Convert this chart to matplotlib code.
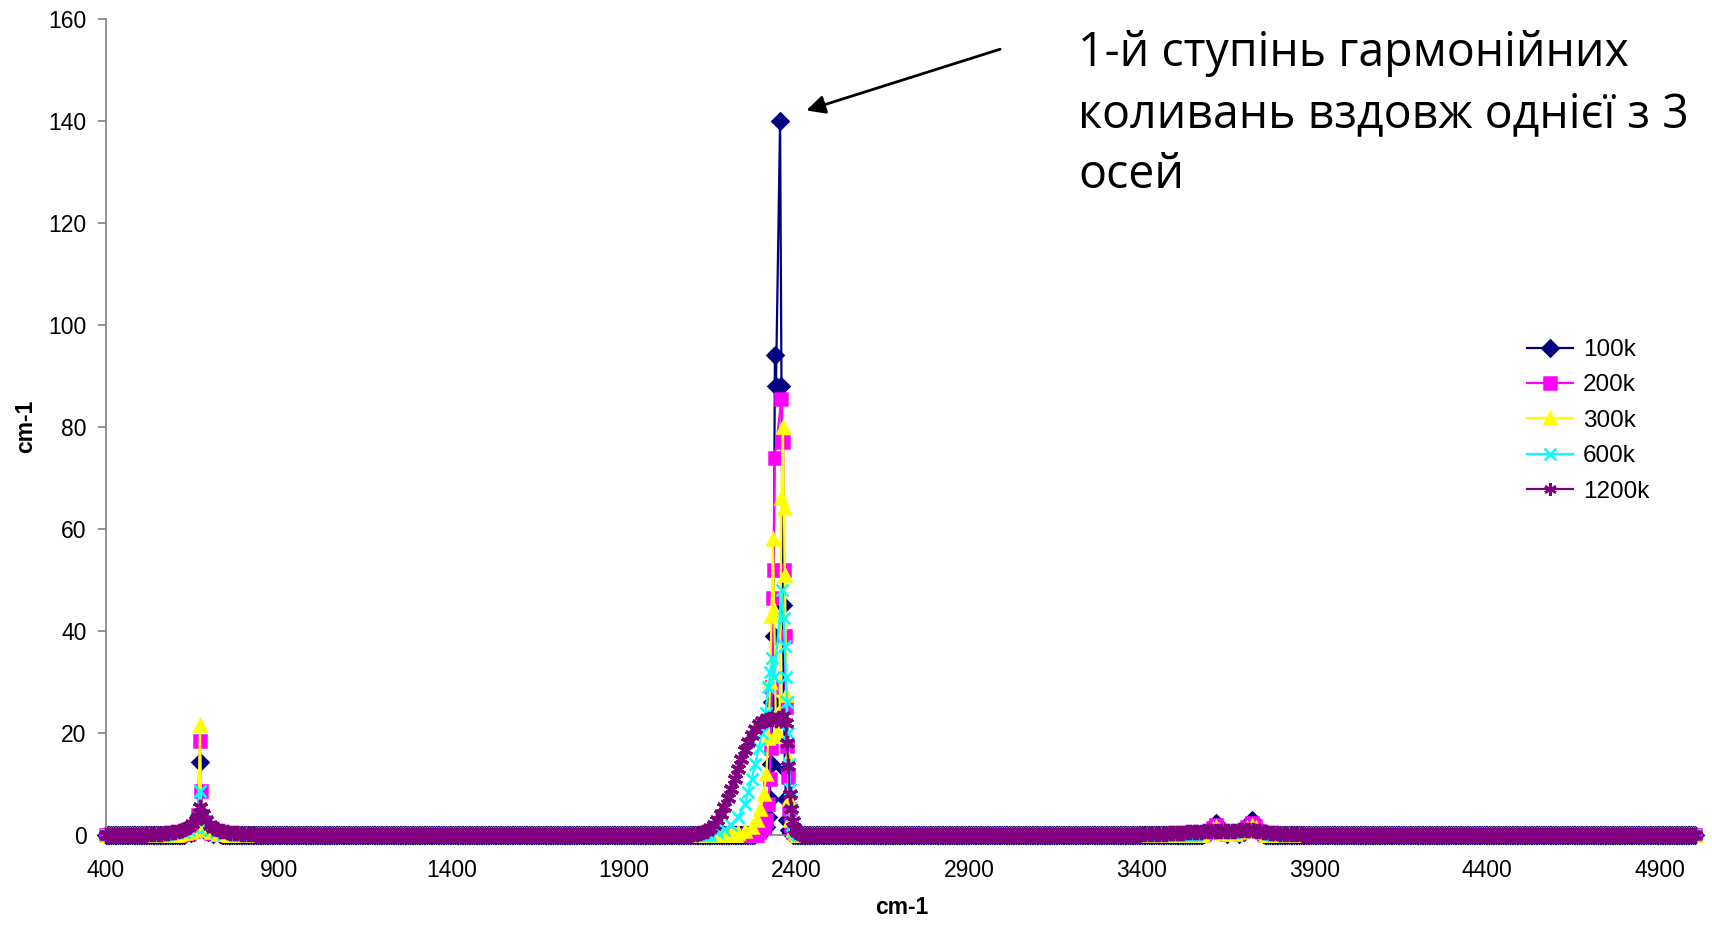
import numpy as np
import matplotlib
matplotlib.use('Agg')
import matplotlib.pyplot as plt

plt.rcParams['font.family'] = ['Liberation Sans', 'DejaVu Sans']

names = ['100k', '200k', '300k', '600k', '1200k']
colors = ['#000080', '#FF00FF', '#FFFF00', '#00FFFF', '#800080']

# peak points (x in cm-1, y value); elsewhere the curves sit on 0
x_100k = [630, 645, 655, 662, 667, 672, 677, 684, 695, 710, 730,
          2280, 2300, 2310, 2317, 2322, 2326, 2330, 2333, 2337, 2340, 2352, 2356,
          2360, 2363, 2366, 2369, 2373, 2378, 2385,
          3580, 3595, 3605, 3613, 3620, 3630, 3645, 3680, 3695, 3708, 3718, 3726, 3735, 3750]
y_100k = [0.1, 0.3, 0.6, 1.2, 3, 14.3, 2.5, 1, 0.5, 0.2, 0.1,
          0.2, 0.6, 1.5, 3.5, 7, 14, 26, 39, 94, 88, 140, 88,
          45, 26, 13, 7, 3, 1, 0.3,
          0.2, 0.6, 1.5, 2.4, 1.4, 0.5, 0.2, 0.2, 0.6, 1.6, 3.0, 1.8, 0.7, 0.2]

x_200k = [620, 640, 652, 660, 666, 672, 676, 682, 690, 705, 725, 745,
          2290, 2305, 2312, 2318, 2322, 2325, 2328, 2331, 2333, 2336, 2356, 2361,
          2364, 2366, 2369, 2372, 2375, 2379, 2384, 2390, 2398,
          3580, 3595, 3605, 3613, 3620, 3630, 3645, 3675, 3690, 3705, 3718, 3728, 3738, 3752]
y_200k = [0.1, 0.4, 0.8, 1.6, 4, 18.4, 8.6, 2.5, 1.0, 0.4, 0.2, 0.1,
          0.5, 1.5, 3, 6, 11, 17, 29, 46.5, 52, 73.8, 85.5, 77,
          52, 39, 25, 17.5, 11.3, 5, 2, 0.6, 0.2,
          0.2, 0.6, 1.3, 1.9, 1.2, 0.5, 0.2, 0.2, 0.7, 1.6, 2.3, 1.7, 0.7, 0.2]

x_300k = [610, 630, 645, 655, 663, 668, 672, 676, 683, 692, 705, 725, 750,
          2230, 2250, 2270, 2285, 2295, 2305, 2312, 2318, 2323, 2327, 2331, 2335,
          2340, 2350, 2356, 2360, 2363, 2366, 2370, 2374, 2378, 2382, 2388, 2395,
          3575, 3590, 3605, 3613, 3622, 3635, 3650, 3670, 3688, 3705, 3718, 3730, 3742, 3758]
y_300k = [0.1, 0.3, 0.6, 1.0, 2.2, 5, 21.6, 4, 1.8, 0.9, 0.5, 0.2, 0.1,
          0.3, 0.8, 1.5, 3, 5, 8, 12, 19, 30, 43, 58, 44,
          20, 19.5, 66, 80, 64, 51, 27.5, 15, 7, 3, 1, 0.3,
          0.2, 0.5, 1.1, 1.5, 1.0, 0.4, 0.2, 0.2, 0.6, 1.3, 1.8, 1.3, 0.6, 0.2]

x_600k = [580, 605, 625, 640, 652, 662, 672, 680, 690, 702, 718, 740, 770,
          2150, 2170, 2190, 2210, 2230, 2250, 2260, 2270, 2280, 2290, 2300, 2310,
          2318, 2324, 2330, 2335, 2358, 2362, 2366, 2369, 2372, 2375, 2378, 2381,
          2384, 2387, 2392, 2400,
          3560, 3585, 3605, 3620, 3640, 3665, 3690, 3710, 3725, 3745, 3770]
y_600k = [0.1, 0.3, 0.6, 1.0, 1.6, 3, 8.6, 3, 1.5, 0.9, 0.5, 0.2, 0.1,
          0.2, 0.5, 1, 2, 3.5, 6, 8.5, 11, 14, 17, 20, 24,
          29, 32, 34.6, 31, 48, 42.5, 37, 31, 26, 20, 14, 9,
          5, 2, 0.7, 0.2,
          0.2, 0.4, 0.8, 0.9, 0.6, 0.4, 0.7, 1.0, 1.0, 0.6, 0.2]

x_1200k = [520, 530, 540, 550, 560, 570, 580, 590, 600, 610, 620, 630, 640, 650,
           660, 665, 672, 680, 690, 700, 710, 720, 730, 740, 750, 760, 770, 780,
           790, 800, 810, 820, 830,
           2100, 2110, 2120, 2130, 2140, 2150, 2160, 2170, 2180, 2190, 2200, 2210,
           2220, 2230, 2240, 2250, 2260, 2270, 2280, 2290, 2300, 2310, 2320, 2330,
           2340, 2350, 2360, 2368, 2372, 2376, 2380, 2385, 2390, 2396, 2402, 2410,
           3400, 3410, 3420, 3430, 3440, 3450, 3460, 3470, 3480, 3490, 3500, 3510,
           3520, 3530, 3540, 3550, 3560, 3570, 3580, 3590, 3600, 3610, 3620, 3630,
           3640, 3650, 3660, 3670, 3680, 3690, 3700, 3710, 3720, 3730, 3740, 3750,
           3760, 3770, 3780, 3790, 3800, 3810, 3820, 3830, 3840, 3850, 3860]
y_1200k = [0.1, 0.1, 0.15, 0.2, 0.25, 0.35, 0.45, 0.55, 0.65, 0.8, 0.95, 1.15, 1.5, 2.1,
           3.0, 3.6, 5.5, 4.2, 3.0, 2.0, 1.4, 1.1, 0.85, 0.7, 0.55, 0.45, 0.35, 0.3,
           0.25, 0.2, 0.15, 0.1, 0.1,
           0.1, 0.2, 0.3, 0.5, 0.8, 1.3, 2.0, 2.9, 4.1, 5.5, 7.2, 9.0,
           11.0, 13.0, 14.9, 16.6, 18.2, 19.6, 20.8, 21.8, 22.3, 22.6, 22.8, 22.7,
           22.5, 22.9, 23.4, 22.0, 18, 13.5, 8, 5, 2.8, 1.2, 0.5, 0.2,
           0.1, 0.1, 0.15, 0.15, 0.2, 0.2, 0.25, 0.25, 0.3, 0.35, 0.35, 0.4,
           0.45, 0.5, 0.5, 0.55, 0.6, 0.65, 0.7, 0.75, 0.8, 0.85, 0.85, 0.8,
           0.75, 0.75, 0.8, 0.85, 0.9, 0.95, 1.0, 1.0, 0.95, 0.85, 0.75, 0.65,
           0.55, 0.45, 0.4, 0.3, 0.25, 0.2, 0.15, 0.15, 0.1, 0.1, 0.1]

# sampling of the flat baseline (value 0)
x_start, x_stop, x_step = 400, 5000, 5

series_x = [x_100k, x_200k, x_300k, x_600k, x_1200k]
series_y = [y_100k, y_200k, y_300k, y_600k, y_1200k]

note_lines = ['1-й ступінь гармонійних', 'коливань вздовж однієї з 3', 'осей']


def assemble(px, py):
    """put the peak points onto the zero baseline"""
    px = np.asarray(px, float)
    py = np.asarray(py, float)
    grid = np.arange(x_start, x_stop + 1, x_step, dtype=float)
    keep = np.ones(grid.size, bool)
    cuts = np.where(np.diff(px) > 100)[0]
    starts = np.r_[px[0], px[cuts + 1]]
    ends = np.r_[px[cuts], px[-1]]
    for s, e in zip(starts, ends):
        keep &= ~((grid >= s) & (grid <= e))
    x = np.r_[grid[keep], px]
    y = np.r_[np.zeros(keep.sum()), py]
    order = np.argsort(x, kind='stable')
    return x[order], y[order]


W, H = 1712, 925
fig = plt.figure(figsize=(W / 100, H / 100), dpi=100)
ax = fig.add_axes([106 / W, 90 / H, (1698 - 106) / W, (835 - 18.6) / H])

markers = ['D', 's', '^', 'x', (6, 2, 0)]
msizes = [8.5, 8, 9, 8.5, 11]
mews = [1.8, 1.8, 1.8, 1.8, 2.4]
for i in range(len(names)):
    x, y = assemble(series_x[i], series_y[i])
    ax.plot(x, y, color=colors[i], lw=1.6, marker=markers[i], ms=msizes[i],
            mec=colors[i], mfc=colors[i], mew=mews[i], label=names[i],
            clip_on=False, zorder=2 + i)

ax.set_xlim(400, 5010)
ax.set_ylim(0, 160)
ax.set_xticks(np.arange(400, 5000, 500))
ax.set_yticks(np.arange(0, 161, 20))
for s in ['top', 'right']:
    ax.spines[s].set_visible(False)
for s in ['left', 'bottom']:
    ax.spines[s].set_color('#808080')
    ax.spines[s].set_linewidth(1.2)
ax.tick_params(axis='both', direction='out', length=6, width=1.2, color='#808080',
               labelsize=16.5)
ax.tick_params(axis='y', pad=8)
ax.tick_params(axis='x', pad=11)
ax.set_xlabel('cm-1', fontsize=16.5, fontweight='bold', labelpad=10)
ax.set_ylabel('cm-1', fontsize=16.5, fontweight='bold', labelpad=8)

leg = ax.legend(loc='upper left', bbox_to_anchor=(1527 / W, 1 - 339 / H),
                bbox_transform=fig.transFigure, frameon=False, fontsize=17.5,
                handlelength=1.9, handletextpad=0.4, labelspacing=0.55,
                borderpad=0, borderaxespad=0)
# keep the legend's asterisk the same size as the other legend markers
leg.get_lines()[-1].set_markersize(9)
leg.get_lines()[-1].set_markeredgewidth(1.8)

ax.annotate('', xy=(2428, 142), xytext=(2989, 154),
            arrowprops=dict(arrowstyle='-|>', color='black', lw=2,
                            mutation_scale=28, shrinkA=0, shrinkB=0))

for k, line in enumerate(note_lines):
    fig.text(1078 / W, 1 - (66 + 61 * k) / H, line, fontsize=33.5,
             family=['Open Sans', 'DejaVu Sans'], va='baseline', ha='left')

fig.savefig('out.png', dpi=100)
